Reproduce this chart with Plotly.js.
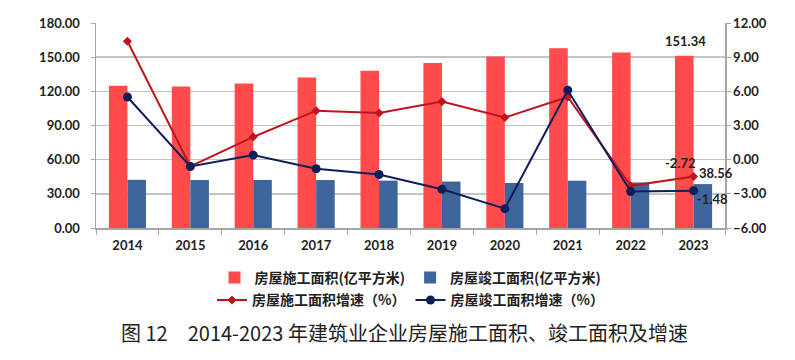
<!DOCTYPE html>
<html>
<head>
<meta charset="utf-8">
<script src="https://cdn.plot.ly/plotly-3.0.1.min.js"></script>
<style>html,body{margin:0;padding:0;background:#fff;}#chart{width:795px;height:360px;}</style>
</head>
<body>
<div id="chart"></div>
<script>
const years = ['2014','2015','2016','2017','2018','2019','2020','2021','2022','2023'];
const constructionArea = [125.0,124.3,126.8,132.2,138.0,144.8,150.6,157.9,154.2,151.34];
const completionArea = [42.3,42.1,42.2,42.1,41.6,40.8,39.5,41.5,40.0,38.56];
const constructionGrowth = [10.4,-0.6,2.0,4.3,4.1,5.1,3.7,5.5,-2.3,-1.48];
const completionGrowth = [5.5,-0.6,0.4,-0.8,-1.3,-2.6,-4.3,6.1,-2.8,-2.72];
const names = ['房屋施工面积(亿平方米)','房屋竣工面积(亿平方米)','房屋施工面积增速（%）','房屋竣工面积增速（%）'];
const caption = '图 12　2014-2023 年建筑业企业房屋施工面积、竣工面积及增速';

const tickFont = {family:'Lato, "Liberation Sans", sans-serif', size:13, color:'#222', weight:700};
const legFont = {family:'"Noto Sans CJK SC", sans-serif', size:14, color:'#222', weight:700};

const traces = [
  {type:'bar', x:years, y:constructionArea, name:names[0], marker:{color:'#FF4B4B'}, legend:'legend'},
  {type:'bar', x:years, y:completionArea, name:names[1], marker:{color:'#3E669C'}, legend:'legend'},
  {type:'scatter', mode:'lines+markers', x:years, y:constructionGrowth, yaxis:'y2', name:names[2],
   line:{color:'#C0141C', width:2}, marker:{symbol:'diamond', size:7, color:'#C0141C'}, legend:'legend2'},
  {type:'scatter', mode:'lines+markers', x:years, y:completionGrowth, yaxis:'y2', name:names[3],
   line:{color:'#0E1E5B', width:2}, marker:{symbol:'circle', size:9, color:'#0E1E5B'}, legend:'legend2'}
];

const n = years.length - 1;
const annFont = {family:'Lato, "Liberation Sans", sans-serif', size:13, color:'#222', weight:700};
const layout = {
  width:795, height:360,
  margin:{l:96, r:70, t:23, b:132},
  paper_bgcolor:'#fff', plot_bgcolor:'#fff',
  barmode:'group', bargap:0.41, bargroupgap:0,
  xaxis:{type:'category', range:[-0.5, n + 0.5], tickfont:tickFont, showline:true, linecolor:'#a6a6a6', linewidth:1.5,
         ticks:'outside', tickson:'boundaries', ticklen:5, tickcolor:'#a6a6a6', showgrid:false, ticklabelstandoff:5},
  yaxis:{range:[0,180], dtick:30, tickformat:'.2f', tickfont:tickFont, showline:true, linecolor:'#a6a6a6',
         linewidth:1.5, gridcolor:'#c4c4c4', gridwidth:1.5, ticks:'outside', ticklen:4, tickcolor:'#a6a6a6',
         zeroline:false, ticklabelstandoff:8},
  yaxis2:{range:[-6,12], dtick:3, tickformat:'.2f', tickfont:tickFont, overlaying:'y', side:'right',
          showline:true, linecolor:'#a6a6a6', linewidth:1.5, showgrid:false, zeroline:false,
          ticks:'outside', ticklen:4, tickcolor:'#a6a6a6', ticklabelstandoff:0},
  showlegend:true,
  legend:{orientation:'h', x:0.5, xanchor:'center', y:-0.165, yanchor:'top', font:legFont,
          bgcolor:'rgba(0,0,0,0)', itemwidth:30},
  legend2:{orientation:'h', x:0.5, xanchor:'center', y:-0.275, yanchor:'top', font:legFont,
          bgcolor:'rgba(0,0,0,0)', itemwidth:30},
  annotations:[
    {x:n, y:constructionArea[n], xref:'x', yref:'y', text:constructionArea[n].toFixed(2),
     showarrow:false, yanchor:'bottom', yshift:5, xshift:-8, font:annFont},
    {x:n, y:constructionGrowth[n], xref:'x', yref:'y2', text:completionGrowth[n].toFixed(2),
     showarrow:false, yshift:14, xshift:-13, font:annFont},
    {x:n, y:constructionGrowth[n], xref:'x', yref:'y2', text:completionArea[n].toFixed(2),
     showarrow:false, yshift:4, xshift:22, font:annFont},
    {x:n, y:completionGrowth[n], xref:'x', yref:'y2', text:constructionGrowth[n].toFixed(2),
     showarrow:false, yshift:-8, xshift:19, font:annFont},
    {x:0.49, y:-0.512, xref:'paper', yref:'paper', yanchor:'middle', text:caption, showarrow:false,
     font:{family:'"Noto Sans CJK SC", sans-serif', size:20, color:'#222'}}
  ]
};
Plotly.newPlot('chart', traces, layout, {displayModeBar:false, staticPlot:true});
</script>
</body>
</html>
